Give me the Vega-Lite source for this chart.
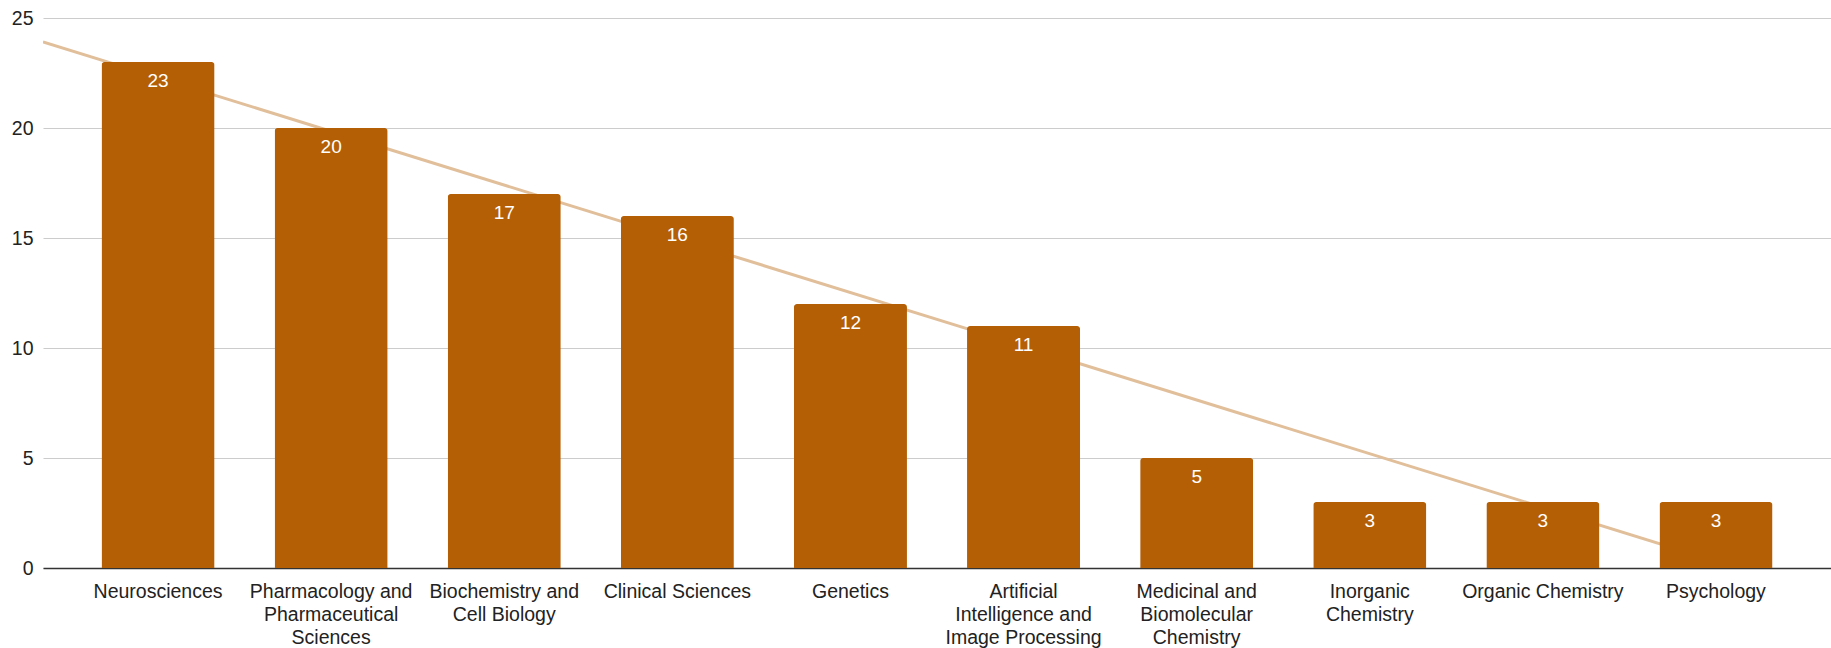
{
  "$schema": "https://vega.github.io/schema/vega-lite/v6.json",
  "width": 1788,
  "height": 550,
  "autosize": {"type": "none"},
  "padding": {"left": 43, "top": 18, "right": 0, "bottom": 80},
  "background": "white",
  "config": {"view": {"stroke": null}, "font": "Liberation Sans"},
  "data": {
    "values": [
      {"category": "Neurosciences", "count": 23},
      {"category": "Pharmacology and Pharmaceutical Sciences", "count": 20},
      {"category": "Biochemistry and Cell Biology", "count": 17},
      {"category": "Clinical Sciences", "count": 16},
      {"category": "Genetics", "count": 12},
      {"category": "Artificial Intelligence and Image Processing", "count": 11},
      {"category": "Medicinal and Biomolecular Chemistry", "count": 5},
      {"category": "Inorganic Chemistry", "count": 3},
      {"category": "Organic Chemistry", "count": 3},
      {"category": "Psychology", "count": 3}
    ]
  },
  "transform": [{"window": [{"op": "row_number", "as": "rank"}]}],
  "layer": [
    {
      "transform": [{"regression": "count", "on": "rank", "extent": [0.335, 10.665]}],
      "mark": {"type": "line", "color": "#e1bf9b", "strokeWidth": 3, "clip": true},
      "encoding": {
        "x": {"field": "rank", "type": "quantitative", "scale": {"domain": [0.335, 10.665], "nice": false, "zero": false}, "axis": null},
        "y": {"field": "count", "type": "quantitative", "scale": {"domain": [0, 25], "nice": false},
          "axis": {"values": [0, 5, 10, 15, 20, 25], "grid": true, "gridColor": "#cccccc", "domain": false, "ticks": false, "labelPadding": 10, "labelFontSize": 19.5, "labelColor": "#222222", "title": null}}
      }
    },
    {
      "encoding": {
        "x": {"field": "category", "type": "nominal", "sort": null,
          "scale": {"paddingInner": 0.347, "paddingOuter": 0.338},
          "axis": {"title": null, "labelAngle": 0, "ticks": false, "domainColor": "#333333", "domainWidth": 1.5, "labelFontSize": 19.5, "labelColor": "#222222", "labelPadding": 14, "labelLineHeight": 23, "labelOverlap": false, "labelLimit": 0, "labelBaseline": "top",
            "labelExpr": "datum.value == 'Pharmacology and Pharmaceutical Sciences' ? ['Pharmacology and', 'Pharmaceutical', 'Sciences'] : datum.value == 'Biochemistry and Cell Biology' ? ['Biochemistry and', 'Cell Biology'] : datum.value == 'Artificial Intelligence and Image Processing' ? ['Artificial', 'Intelligence and', 'Image Processing'] : datum.value == 'Medicinal and Biomolecular Chemistry' ? ['Medicinal and', 'Biomolecular', 'Chemistry'] : datum.value == 'Inorganic Chemistry' ? ['Inorganic', 'Chemistry'] : datum.value"}},
        "y": {"field": "count", "type": "quantitative", "scale": {"domain": [0, 25], "nice": false},
          "axis": {"values": [0, 5, 10, 15, 20, 25], "grid": true, "gridColor": "#cccccc", "domain": false, "ticks": false, "labelPadding": 10, "labelFontSize": 19.5, "labelColor": "#222222", "title": null}}
      },
      "layer": [
        {"mark": {"type": "bar", "color": "#b45f06", "cornerRadiusTopLeft": 3, "cornerRadiusTopRight": 3}},
        {"mark": {"type": "text", "color": "white", "fontSize": 19, "baseline": "middle", "dy": 19},
          "encoding": {"text": {"field": "count", "type": "quantitative"}}}
      ]
    }
  ],
  "resolve": {"scale": {"x": "independent"}}
}
